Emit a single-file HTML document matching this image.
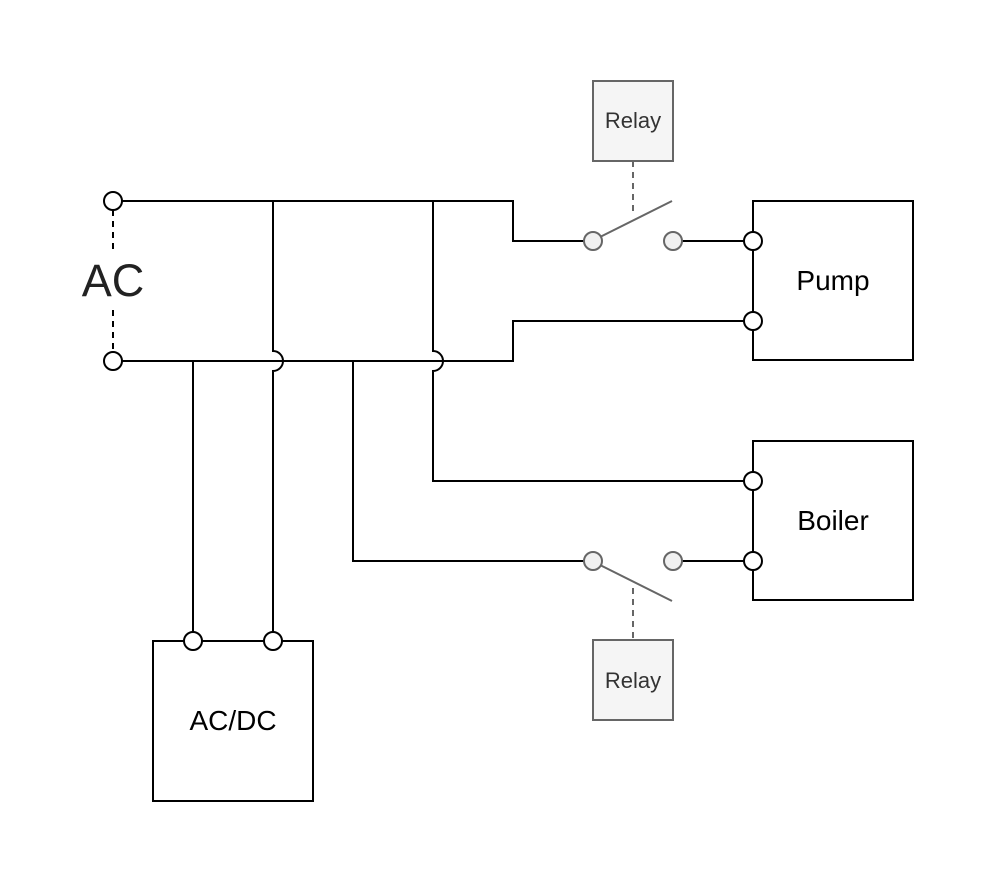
<!DOCTYPE html>
<html><head><meta charset="utf-8"><style>html,body{margin:0;padding:0;background:#fff}svg{display:block}</style></head>
<body>
<svg width="994" height="882" viewBox="0 0 994 882" xmlns="http://www.w3.org/2000/svg" font-family="Liberation Sans, Helvetica, Arial, sans-serif">
<g fill="none" stroke="#000" stroke-width="2">
<rect x="753" y="201" width="160" height="159"/>
<rect x="753" y="441" width="160" height="159"/>
<rect x="153" y="641" width="160" height="160"/>
<path d="M122 201 H513 V241 H584"/>
<path d="M682 241 H744"/>
<path d="M122 361 H513 V321 H744"/>
<path d="M273 201 V351 A10 10 0 0 1 273 371 V632"/>
<path d="M433 201 V351 A10 10 0 0 1 433 371 V481 H744"/>
<path d="M193 361 V632"/>
<path d="M353 361 V561 H584"/>
<path d="M682 561 H744"/>
<path d="M113 210 V252 M113 310 V352" stroke-dasharray="6 5"/>
</g>
<text x="113" y="296" font-size="45" text-anchor="middle" fill="#222">AC</text>
<g stroke="#666" stroke-width="2" fill="#f5f5f5">
<rect x="593" y="81" width="80" height="80"/>
<rect x="593" y="640" width="80" height="80"/>
<path d="M633 161 V214 M633 588 V640" stroke-dasharray="6 5" fill="none"/>
<path d="M600 237 L672 201 M600 565 L672 601" fill="none"/>
<circle cx="593" cy="241" r="9" fill="#f0f0f0"/>
<circle cx="673" cy="241" r="9" fill="#f0f0f0"/>
<circle cx="593" cy="561" r="9" fill="#f0f0f0"/>
<circle cx="673" cy="561" r="9" fill="#f0f0f0"/>
</g>
<g font-size="22" fill="#333" text-anchor="middle">
<text x="633" y="128">Relay</text>
<text x="633" y="688">Relay</text>
</g>
<g font-size="28" fill="#000" text-anchor="middle">
<text x="833" y="290">Pump</text>
<text x="833" y="530">Boiler</text>
<text x="233" y="730">AC/DC</text>
</g>
<g fill="#fff" stroke="#000" stroke-width="2">
<circle cx="113" cy="201" r="9"/>
<circle cx="113" cy="361" r="9"/>
<circle cx="753" cy="241" r="9"/>
<circle cx="753" cy="321" r="9"/>
<circle cx="753" cy="481" r="9"/>
<circle cx="753" cy="561" r="9"/>
<circle cx="193" cy="641" r="9"/>
<circle cx="273" cy="641" r="9"/>
</g>
</svg>
</body></html>
